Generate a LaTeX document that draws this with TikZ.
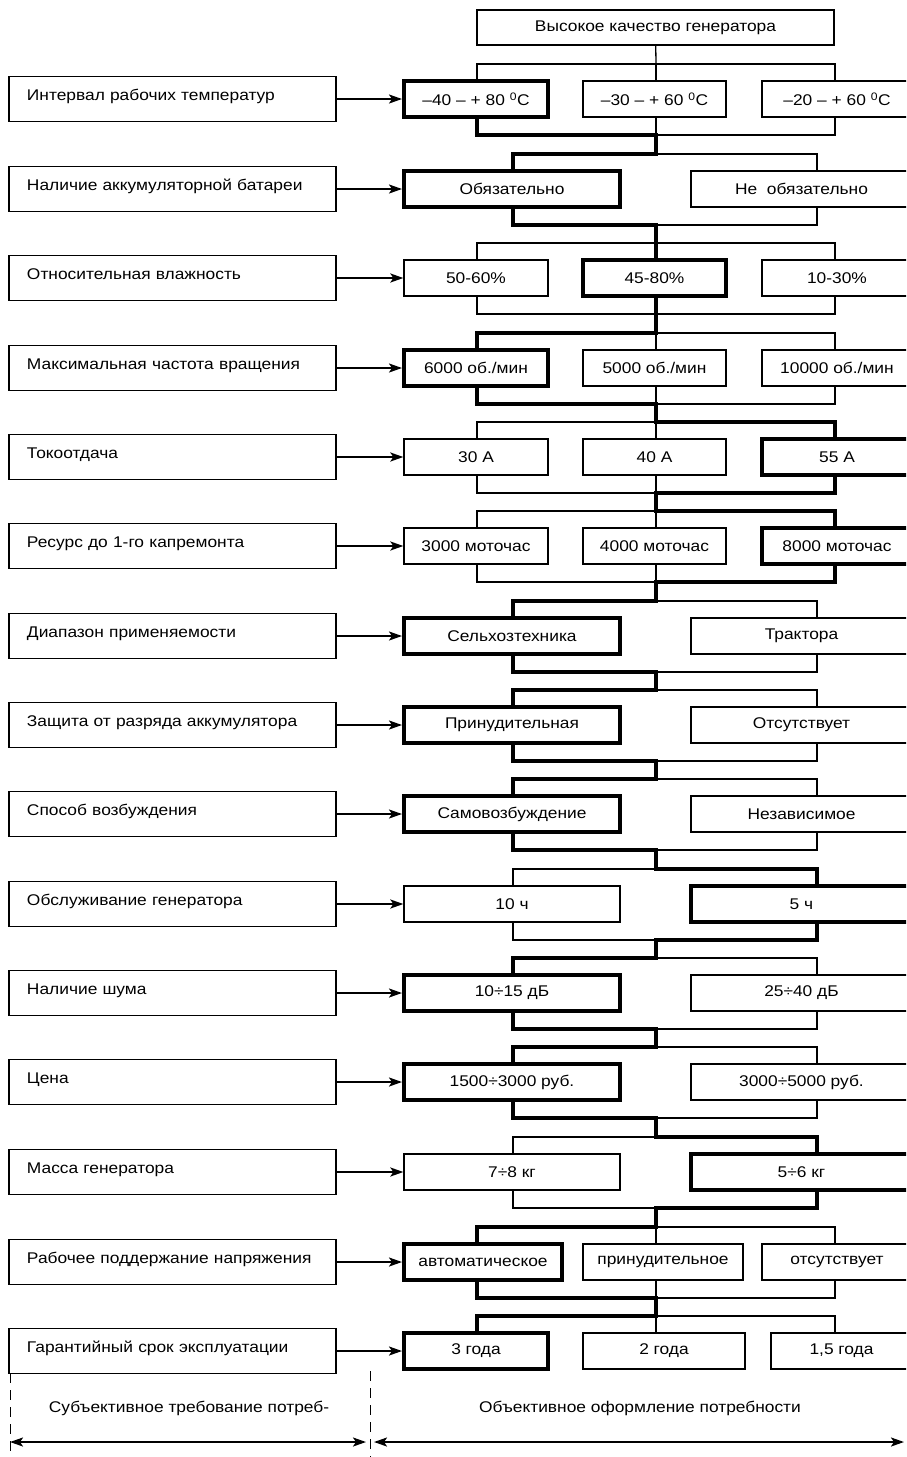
\documentclass[tikz,border=0pt]{standalone}
\usepackage{fontspec}
\setmainfont[FakeStretch=1.12]{Liberation Sans}
\usetikzlibrary{arrows.meta}

\tikzset{
  lbl/.style={draw, line width=1.3pt, minimum width=327pt, minimum height=45pt,
    text width=291pt, align=left, inner xsep=18pt, text height=13pt, text depth=10pt},
  opt/.style={draw, line width=1.3pt, minimum height=36pt, inner sep=0pt},
  sel/.style={opt, line width=4pt},
  wA/.style={minimum width=144pt},
  wB/.style={minimum width=143pt},
  wC/.style={minimum width=150pt},
  wL/.style={minimum width=216pt},
  wR/.style={minimum width=221pt},
  wire/.style={line width=1.3pt},
  hot/.style={line width=4pt},
  link/.style={line width=2pt, -{Stealth[length=13pt,width=9pt,inset=3pt]}},
  span/.style={line width=2pt, {Stealth[length=13pt,width=9pt,inset=3pt]}-{Stealth[length=13pt,width=9pt,inset=3pt]}},
  guide/.style={line width=1pt, dash pattern=on 10pt off 7pt},
}

\begin{document}
\begin{tikzpicture}[x=1pt,y=-1pt,font=\fontsize{15.5}{18}\selectfont]
  \useasboundingbox (0,0) rectangle (906,1457);
  \clip (0,0) rectangle (906,1457);

  \path
    (477,0) coordinate (xa)
    (656,0) coordinate (xb)
    (835,0) coordinate (xc)
    (513,0) coordinate (xl)
    (817,0) coordinate (xr)
    (656,64) coordinate (t1)    (656,135) coordinate (b1)
    (656,154) coordinate (t2)   (656,225) coordinate (b2)
    (656,243) coordinate (t3)   (656,314) coordinate (b3)
    (656,333) coordinate (t4)   (656,404) coordinate (b4)
    (656,422) coordinate (t5)   (656,493) coordinate (b5)
    (656,511) coordinate (t6)   (656,582) coordinate (b6)
    (656,601) coordinate (t7)   (656,672) coordinate (b7)
    (656,690) coordinate (t8)   (656,761) coordinate (b8)
    (656,779) coordinate (t9)   (656,850) coordinate (b9)
    (656,869) coordinate (t10)  (656,940) coordinate (b10)
    (656,958) coordinate (t11)  (656,1029) coordinate (b11)
    (656,1047) coordinate (t12) (656,1118) coordinate (b12)
    (656,1137) coordinate (t13) (656,1208) coordinate (b13)
    (656,1227) coordinate (t14) (656,1298) coordinate (b14)
    (656,1316) coordinate (t15);

  \node[opt, minimum width=357pt, minimum height=35pt] (top) at (655.5,27.5) {Высокое качество генератора};

  \node[lbl] (q1) at (172.5,99) {Интервал рабочих температур};
  \node[lbl] (q2) at (172.5,189) {Наличие аккумуляторной батареи};
  \node[lbl] (q3) at (172.5,278) {Относительная влажность};
  \node[lbl] (q4) at (172.5,368) {Максимальная частота вращения};
  \node[lbl] (q5) at (172.5,457) {Токоотдача};
  \node[lbl] (q6) at (172.5,546) {Ресурс до 1-го капремонта};
  \node[lbl] (q7) at (172.5,636) {Диапазон применяемости};
  \node[lbl] (q8) at (172.5,725) {Защита от разряда аккумулятора};
  \node[lbl] (q9) at (172.5,814) {Способ возбуждения};
  \node[lbl] (q10) at (172.5,904) {Обслуживание генератора};
  \node[lbl] (q11) at (172.5,993) {Наличие шума};
  \node[lbl] (q12) at (172.5,1082) {Цена};
  \node[lbl] (q13) at (172.5,1172) {Масса генератора};
  \node[lbl] (q14) at (172.5,1262) {Рабочее поддержание напряжения};
  \node[lbl] (q15) at (172.5,1351) {Гарантийный срок эксплуатации};

  \node[sel,wA] (r1a) at (476,99) {–40 – + 80 \textsuperscript{0}C};
  \node[opt,wB] (r1b) at (654.5,99) {–30 – + 60 \textsuperscript{0}C};
  \node[opt,wC] (r1c) at (837,99) {–20 – + 60 \textsuperscript{0}C};
  \node[sel,wL] (r2a) at (512,189) {Обязательно};
  \node[opt,wR] (r2b) at (801.5,189) {Не~~обязательно};
  \node[opt,wA] (r3a) at (476,278) {50-60\%};
  \node[sel,wB] (r3b) at (654.5,278) {45-80\%};
  \node[opt,wC] (r3c) at (837,278) {10-30\%};
  \node[sel,wA] (r4a) at (476,368) {6000 об./мин};
  \node[opt,wB] (r4b) at (654.5,368) {5000 об./мин};
  \node[opt,wC] (r4c) at (837,368) {10000 об./мин};
  \node[opt,wA] (r5a) at (476,457) {30 А};
  \node[opt,wB] (r5b) at (654.5,457) {40 А};
  \node[sel,wC] (r5c) at (837,457) {55 А};
  \node[opt,wA] (r6a) at (476,546) {3000 моточас};
  \node[opt,wB] (r6b) at (654.5,546) {4000 моточас};
  \node[sel,wC] (r6c) at (837,546) {8000 моточас};
  \node[sel,wL] (r7a) at (512,636) {Сельхозтехника};
  \node[opt,wR] (r7b) at (801.5,636) {Трактора};
  \node[sel,wL] (r8a) at (512,725) {Принудительная};
  \node[opt,wR] (r8b) at (801.5,725) {Отсутствует};
  \node[sel,wL] (r9a) at (512,814) {Самовозбуждение};
  \node[opt,wR] (r9b) at (801.5,814) {Независимое};
  \node[opt,wL] (r10a) at (512,904) {10 ч};
  \node[sel,wR] (r10b) at (801.5,904) {5 ч};
  \node[sel,wL] (r11a) at (512,993) {10÷15 дБ};
  \node[opt,wR] (r11b) at (801.5,993) {25÷40 дБ};
  \node[sel,wL] (r12a) at (512,1082) {1500÷3000 руб.};
  \node[opt,wR] (r12b) at (801.5,1082) {3000÷5000 руб.};
  \node[opt,wL] (r13a) at (512,1172) {7÷8 кг};
  \node[sel,wR] (r13b) at (801.5,1172) {5÷6 кг};
  \node[sel,minimum width=158pt] (r14a) at (483,1262) {автоматическое};
  \node[opt,minimum width=160pt] (r14b) at (663,1262) {принудительное};
  \node[opt,wC] (r14c) at (837,1262) {отсутствует};
  \node[sel,wA] (r15a) at (476,1351) {3 года};
  \node[opt,minimum width=162pt] (r15b) at (664,1351) {2 года};
  \node[opt,minimum width=141pt] (r15c) at (841.5,1351) {1,5 года};

  \node (subj) at (189,1408) {Субъективное требование потреб-};
  \node (obj) at (640,1408) {Объективное оформление потребности};

  \begin{scope}[wire]
    \draw (top) -- (t1);
    \draw (r1a.north -| xa) |- (t1) -| (r1c.north -| xc) (t1) -- (r1b.north -| xb);
    \draw (r1a.south -| xa) |- (b1) -| (r1c.south -| xc) (b1) -- (r1b.south -| xb);
    \draw (r2a.north -| xl) |- (t2) -| (r2b.north -| xr);
    \draw (r2a.south -| xl) |- (b2) -| (r2b.south -| xr);
    \draw (r3a.north -| xa) |- (t3) -| (r3c.north -| xc) (t3) -- (r3b.north -| xb);
    \draw (r3a.south -| xa) |- (b3) -| (r3c.south -| xc) (b3) -- (r3b.south -| xb);
    \draw (r4a.north -| xa) |- (t4) -| (r4c.north -| xc) (t4) -- (r4b.north -| xb);
    \draw (r4a.south -| xa) |- (b4) -| (r4c.south -| xc) (b4) -- (r4b.south -| xb);
    \draw (r5a.north -| xa) |- (t5) -| (r5c.north -| xc) (t5) -- (r5b.north -| xb);
    \draw (r5a.south -| xa) |- (b5) -| (r5c.south -| xc) (b5) -- (r5b.south -| xb);
    \draw (r6a.north -| xa) |- (t6) -| (r6c.north -| xc) (t6) -- (r6b.north -| xb);
    \draw (r6a.south -| xa) |- (b6) -| (r6c.south -| xc) (b6) -- (r6b.south -| xb);
    \draw (r7a.north -| xl) |- (t7) -| (r7b.north -| xr);
    \draw (r7a.south -| xl) |- (b7) -| (r7b.south -| xr);
    \draw (r8a.north -| xl) |- (t8) -| (r8b.north -| xr);
    \draw (r8a.south -| xl) |- (b8) -| (r8b.south -| xr);
    \draw (r9a.north -| xl) |- (t9) -| (r9b.north -| xr);
    \draw (r9a.south -| xl) |- (b9) -| (r9b.south -| xr);
    \draw (r10a.north -| xl) |- (t10) -| (r10b.north -| xr);
    \draw (r10a.south -| xl) |- (b10) -| (r10b.south -| xr);
    \draw (r11a.north -| xl) |- (t11) -| (r11b.north -| xr);
    \draw (r11a.south -| xl) |- (b11) -| (r11b.south -| xr);
    \draw (r12a.north -| xl) |- (t12) -| (r12b.north -| xr);
    \draw (r12a.south -| xl) |- (b12) -| (r12b.south -| xr);
    \draw (r13a.north -| xl) |- (t13) -| (r13b.north -| xr);
    \draw (r13a.south -| xl) |- (b13) -| (r13b.south -| xr);
    \draw (r14a.north -| xa) |- (t14) -| (r14c.north -| xc) (t14) -- (r14b.north -| xb);
    \draw (r14a.south -| xa) |- (b14) -| (r14c.south -| xc) (b14) -- (r14b.south -| xb);
    \draw (r15a.north -| xa) |- (t15) -| (r15c.north -| xc) (t15) -- (r15b.north -| xb);
  \end{scope}

  \begin{scope}[hot]
    \draw (r1a.south -| xa) |- (b1) -- (t2) -| (r2a.north -| xl);
    \draw (r2a.south -| xl) |- (b2) -- (t3) -| (r3b.north -| xb);
    \draw (r3b.south -| xb) |- (b3) -- (t4) -| (r4a.north -| xa);
    \draw (r4a.south -| xa) |- (b4) -- (t5) -| (r5c.north -| xc);
    \draw (r5c.south -| xc) |- (b5) -- (t6) -| (r6c.north -| xc);
    \draw (r6c.south -| xc) |- (b6) -- (t7) -| (r7a.north -| xl);
    \draw (r7a.south -| xl) |- (b7) -- (t8) -| (r8a.north -| xl);
    \draw (r8a.south -| xl) |- (b8) -- (t9) -| (r9a.north -| xl);
    \draw (r9a.south -| xl) |- (b9) -- (t10) -| (r10b.north -| xr);
    \draw (r10b.south -| xr) |- (b10) -- (t11) -| (r11a.north -| xl);
    \draw (r11a.south -| xl) |- (b11) -- (t12) -| (r12a.north -| xl);
    \draw (r12a.south -| xl) |- (b12) -- (t13) -| (r13b.north -| xr);
    \draw (r13b.south -| xr) |- (b13) -- (t14) -| (r14a.north -| xa);
    \draw (r14a.south -| xa) |- (b14) -- (t15) -| (r15a.north -| xa);
  \end{scope}

  \draw[link] (q1) -- (r1a);
  \draw[link] (q2) -- (r2a);
  \draw[link] (q3) -- (r3a);
  \draw[link] (q4) -- (r4a);
  \draw[link] (q5) -- (r5a);
  \draw[link] (q6) -- (r6a);
  \draw[link] (q7) -- (r7a);
  \draw[link] (q8) -- (r8a);
  \draw[link] (q9) -- (r9a);
  \draw[link] (q10) -- (r10a);
  \draw[link] (q11) -- (r11a);
  \draw[link] (q12) -- (r12a);
  \draw[link] (q13) -- (r13a);
  \draw[link] (q14) -- (r14a);
  \draw[link] (q15) -- (r15a);

  \path
    (10,1373) coordinate (d1) (10,1457) coordinate (d2)
    (370,1371) coordinate (d3) (370,1457) coordinate (d4)
    (10,1442) coordinate (e1) (366,1442) coordinate (e2)
    (374,1442) coordinate (e3) (904,1442) coordinate (e4);
  \draw[guide] (d1) -- (d2);
  \draw[guide] (d3) -- (d4);
  \draw[span] (e1) -- (e2);
  \draw[span] (e3) -- (e4);
\end{tikzpicture}
\end{document}
